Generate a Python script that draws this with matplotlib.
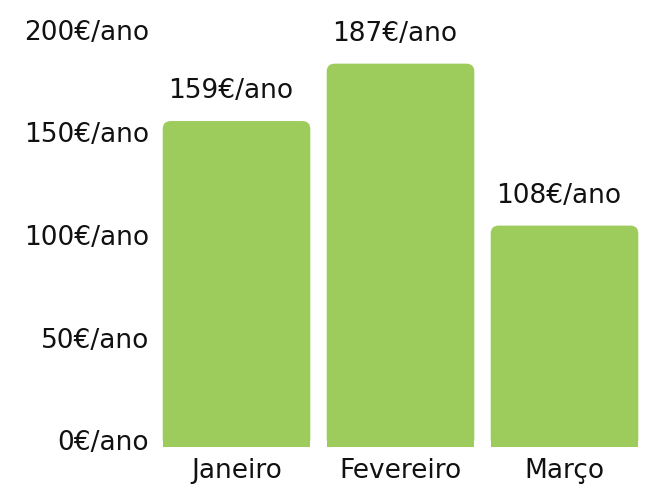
import matplotlib
matplotlib.use("Agg")
import matplotlib.pyplot as plt
from matplotlib.patches import FancyBboxPatch, Rectangle
from matplotlib.transforms import ScaledTranslation

plt.rcParams['font.family'] = ['DejaVu Sans']

meses = ["Janeiro", "Fevereiro", "Março"]
valores = [159, 187, 108]
yticks = [0, 50, 100, 150, 200]
ytick_labels = ["0€/ano", "50€/ano", "100€/ano", "150€/ano", "200€/ano"]

verde = "#9dcc5c"
texto = "#111111"
fs = 19

fig = plt.figure(figsize=(6.45, 4.84), dpi=100)
ax = fig.add_axes([154.5 / 645, 37 / 484, 492 / 645, 440 / 484])
ax.set_xlim(-0.5, 2.5)
ax.set_ylim(0, 440 / 2.05)

bars = ax.bar(range(len(meses)), valores, width=0.9, color="none")

# rounded tops, square bottoms
px_x = 3.0 / 492
px_y = (440 / 2.05) / 440
r = 8 * px_x
for b in bars:
    x, w, h = b.get_x(), b.get_width(), b.get_height()
    ax.add_patch(FancyBboxPatch((x, 0), w, h,
                                boxstyle=f"round,pad=0,rounding_size={r}",
                                mutation_aspect=px_y / px_x,
                                fc=verde, ec="none"))
    ax.add_patch(Rectangle((x, 0), w, h / 2, fc=verde, ec="none"))
    ax.annotate(f"{int(h)}€/ano", (x + w / 2, h), xytext=(-4, 12),
                textcoords="offset points", ha="center", va="bottom",
                fontsize=fs, color=texto)

ax.set_xticks(range(len(meses)))
ax.set_xticklabels(meses, fontsize=fs, color=texto)
ax.set_yticks(yticks)
ax.set_yticklabels(ytick_labels, fontsize=fs, color=texto)
ax.tick_params(length=0, pad=4)
ax.tick_params(axis="x", pad=8)
for lab in ax.get_yticklabels():
    lab.set_transform(lab.get_transform() + ScaledTranslation(0, 7 / 100, fig.dpi_scale_trans))

for s in ax.spines.values():
    s.set_visible(False)

fig.savefig("out.png", dpi=100, facecolor="white")
